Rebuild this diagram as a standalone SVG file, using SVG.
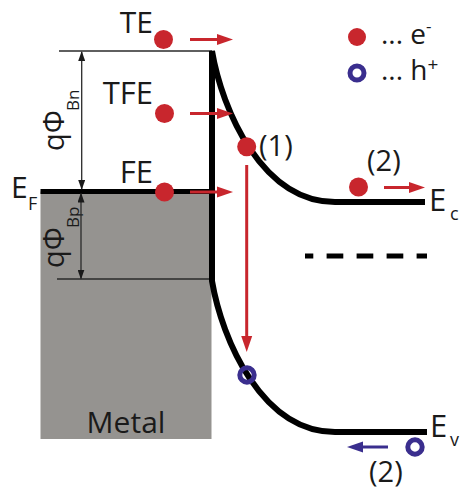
<svg xmlns="http://www.w3.org/2000/svg" width="460" height="493" viewBox="0 0 460 493">
<style>
text { font-family: "Open Sans", "Liberation Sans", sans-serif; fill: #1a1a1a; }
.lbl { font-size: 31px; }
.band { font-size: 31px; }
.par { font-size: 29px; }
.sub { font-size: 18px; }
.leg { font-size: 28px; }
.thin { stroke: #2a2a2a; stroke-width: 1.3; fill: none; }
.thick { stroke: #000; stroke-width: 6; fill: none; }
.el { fill: #c8262d; }
.hole { fill: none; stroke: #3a2e8e; stroke-width: 5; }
.rarr { stroke: #c8262d; stroke-width: 3; fill: none; }
.barr { stroke: #3a2e8e; stroke-width: 3; fill: none; }
</style>
<defs>
<marker id="hr" markerUnits="userSpaceOnUse" markerWidth="16" markerHeight="12" refX="6" refY="6" orient="auto">
<path d="M0,0.5 L16,6 L0,11.5 z" fill="#c8262d"/>
</marker>
<marker id="hb" markerUnits="userSpaceOnUse" markerWidth="16" markerHeight="12" refX="6" refY="6" orient="auto">
<path d="M0,0.5 L16,6 L0,11.5 z" fill="#3a2e8e"/>
</marker>
<marker id="hk" markerUnits="userSpaceOnUse" markerWidth="10" markerHeight="7" refX="9" refY="3.5" orient="auto-start-reverse">
<path d="M0,0 L10,3.5 L0,7 z" fill="#1a1a1a"/>
</marker>
</defs>

<g id="metal">
<rect x="40.5" y="191.5" width="171" height="247.5" fill="#959390"/>
<text class="band" x="126" y="433" text-anchor="middle" style="font-size:30px">Metal</text>
</g>

<g id="fermi-level">
<line x1="40.5" y1="191.5" x2="212" y2="191.5" stroke="#000" stroke-width="5"/>
<text class="band" x="11" y="198" style="font-size:30px">E</text>
<text class="sub" x="28" y="210">F</text>
</g>

<g id="barrier-lines">
<line class="thin" x1="59" y1="51" x2="212" y2="51"/>
<line class="thin" x1="57" y1="279" x2="211" y2="279"/>
</g>

<g id="bands">
<path class="thick" d="M425,202 L335,202 C262,202 222,110 212,51 L212,281 C222,340 262,432 335,432 L427,432"/>
<line x1="305" y1="256" x2="427" y2="256" stroke="#000" stroke-width="5" stroke-dasharray="16.7 13.3" stroke-dashoffset="8.4"/>
<text class="band" x="429" y="211">E</text>
<text class="sub" x="450" y="220">c</text>
<text class="band" x="430" y="437">E</text>
<text class="sub" x="450" y="446">v</text>
</g>

<g id="phi-bn">
<text transform="translate(64,151) rotate(-90)" style="font-size:29px">qΦ</text>
<text class="sub" transform="translate(79,111) rotate(-90)" style="font-size:17px">Bn</text>
</g>

<g id="phi-bp">
<text transform="translate(64,268) rotate(-90)" style="font-size:29px">qΦ</text>
<text class="sub" transform="translate(79,228) rotate(-90)" style="font-size:17px">Bp</text>
</g>

<g id="TE">
<text class="lbl" x="153" y="32.5" text-anchor="end" style="font-size:30px">TE</text>
<circle class="el" cx="163.5" cy="39.5" r="9.5"/>
</g>
<g id="TFE">
<text class="lbl" x="153" y="104" text-anchor="end">TFE</text>
<circle class="el" cx="164.5" cy="113.5" r="9.5"/>
</g>
<g id="FE">
<text class="lbl" x="153" y="183" text-anchor="end">FE</text>
<circle class="el" cx="164.5" cy="192" r="9.5"/>
</g>

<g id="e1">
<circle class="el" cx="246.7" cy="146.7" r="9.5"/>
<text class="par" x="259" y="156">(1)</text>
</g>
<g id="e2">
<circle class="el" cx="358.5" cy="187" r="9.5"/>
<text class="par" x="367" y="171">(2)</text>
</g>
<g id="h1">
<circle class="hole" cx="247" cy="375" r="7.2"/>
</g>
<g id="h2">
<circle class="hole" cx="415" cy="447" r="7.2"/>
<text class="par" x="369" y="482">(2)</text>
</g>

<g id="legend">
<circle class="el" cx="357" cy="37" r="9"/>
<text class="leg" x="381" y="44">... e<tspan dy="-12" font-size="17">-</tspan></text>
<circle class="hole" cx="357" cy="73" r="7"/>
<text class="leg" x="381" y="80">... h<tspan dy="-9" font-size="19">+</tspan></text>
</g>

<g id="connectors">
<line x1="81.7" y1="52" x2="81.7" y2="189" class="thin" marker-start="url(#hk)" marker-end="url(#hk)"/>
<line x1="81" y1="193.5" x2="81" y2="278.5" class="thin" marker-start="url(#hk)" marker-end="url(#hk)"/>
<line class="rarr" x1="190" y1="39.5" x2="223" y2="39.5" marker-end="url(#hr)"/>
<line class="rarr" x1="190" y1="113.5" x2="223" y2="113.5" marker-end="url(#hr)"/>
<line class="rarr" x1="190" y1="192" x2="223" y2="192" marker-end="url(#hr)"/>
<line class="rarr" x1="384" y1="187.5" x2="415" y2="187.5" marker-end="url(#hr)"/>
<line class="rarr" x1="246.7" y1="165" x2="246.7" y2="342" marker-end="url(#hr)"/>
<line class="barr" x1="388" y1="447" x2="357" y2="447" marker-end="url(#hb)"/>
</g>
</svg>
